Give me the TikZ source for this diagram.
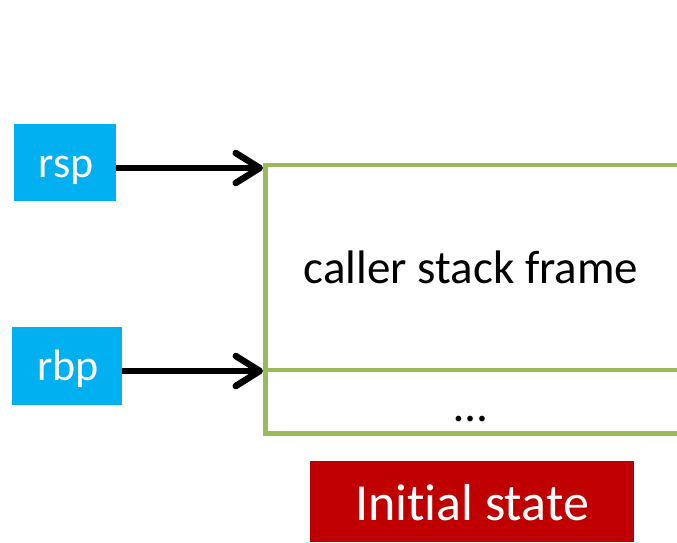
\documentclass[tikz,border=0pt]{standalone}
\usepackage{fontspec}
\setmainfont[Ligatures=NoCommon, RawFeature={-liga}]{Carlito}
\usetikzlibrary{arrows.meta}
\definecolor{regblue}{HTML}{00B0F0}
\definecolor{framegreen}{HTML}{9BBB59}
\definecolor{labelred}{HTML}{C00000}
\tikzset{
  reg/.style={fill=regblue, inner sep=0pt},
  regtext/.style={text=white, inner sep=0pt, anchor=base, font=\fontsize{44}{50}\selectfont},
  frameline/.style={draw=framegreen, line width=4.5pt},
  ptr/.style={line width=6.5pt, -{Straight Barb[length=24pt,width=30pt,round]}},
  caption/.style={fill=labelred, inner sep=0pt},
  captext/.style={text=white, inner sep=0pt, anchor=base, font=\fontsize{52}{60}\selectfont},
  body/.style={inner sep=0pt, anchor=base, font=\fontsize{47}{54}\selectfont}
}
\begin{document}
\begin{tikzpicture}[x=1pt, y=-1pt]
  \useasboundingbox (0,0) rectangle (677,542);

  % stack frame outline
  \coordinate (ftop)  at (265.5,165);
  \coordinate (fmid)  at (265.5,370);
  \coordinate (fbot)  at (265.5,433.5);
  \draw[frameline] (677,165) -- (ftop) -- (fbot) -- (677,433.5);
  \draw[frameline] (fmid) -- (677,370);

  % register boxes
  \node[reg, minimum width=102pt, minimum height=77pt] (rsp) at (65,162) {};
  \node[regtext] (rsptext) at (66,177) {rsp};
  \node[reg, minimum width=110pt, minimum height=78pt] (rbp) at (67,366) {};
  \node[regtext] (rbptext) at (68,380) {rbp};

  % pointer arrows
  \coordinate (tipA) at (263,168);
  \coordinate (tipB) at (263,371);
  \draw[ptr] (rsp.east |- tipA) -- (tipA);
  \draw[ptr] (rbp.east |- tipB) -- (tipB);

  % frame contents
  \node[body] (frame) at (471,283) {caller stack frame};
  \node[body] (dots) at (471,421) {…};

  % caption
  \node[caption, minimum width=324pt, minimum height=81pt] (cap) at (472,501.5) {};
  \node[captext] (captext) at (472,520) {Initial state};
\end{tikzpicture}
\end{document}
